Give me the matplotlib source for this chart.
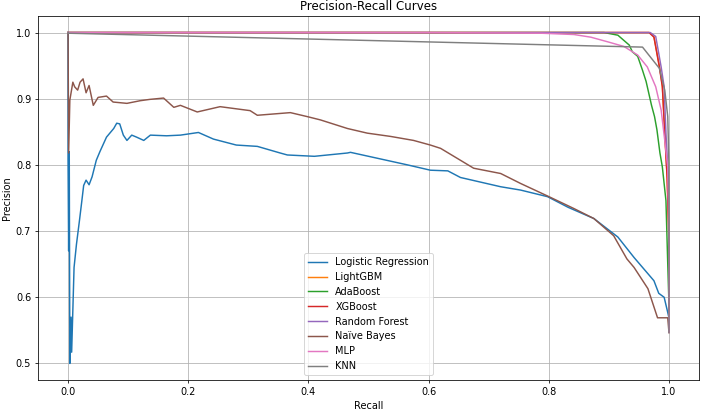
import matplotlib.pyplot as plt

# Recall / precision points
lr_recall = [0.0, 0.0, 0.001, 0.002, 0.003, 0.005, 0.006, 0.01, 0.014, 0.019, 0.023, 0.026, 0.03, 0.035,
             0.04, 0.047, 0.053, 0.064, 0.076, 0.081, 0.086, 0.092, 0.098, 0.106, 0.114, 0.126, 0.137,
             0.164, 0.187, 0.217, 0.242, 0.28, 0.315, 0.353, 0.365, 0.41, 0.465, 0.47, 0.52, 0.565,
             0.603, 0.632, 0.653, 0.72, 0.753, 0.798, 0.832, 0.875, 0.915, 0.942, 0.975, 0.983,
             0.992, 0.998, 1.0, 1.0]
lr_precision = [1.0, 0.81, 0.67, 0.82, 0.5, 0.57, 0.517, 0.645, 0.68, 0.716, 0.746, 0.769, 0.777, 0.77,
                0.782, 0.807, 0.82, 0.842, 0.855, 0.863, 0.862, 0.845, 0.837, 0.845, 0.842, 0.837, 0.845,
                0.844, 0.845, 0.849, 0.839, 0.83, 0.828, 0.818, 0.815, 0.813, 0.818, 0.819, 0.809, 0.80,
                0.792, 0.791, 0.781, 0.767, 0.762, 0.752, 0.736, 0.719, 0.691, 0.66, 0.625, 0.606,
                0.6, 0.577, 0.569, 0.547]

top_recall = [0.0, 0.967, 0.975, 0.984, 0.989, 0.993, 0.997, 1.0, 1.0]
lgbm_precision = [1.0, 1.0, 0.994, 0.95, 0.92, 0.85, 0.78, 0.70, 0.547]
xgb_precision = [1.0, 1.0, 0.993, 0.948, 0.918, 0.848, 0.78, 0.68, 0.547]
rf_recall = [0.0, 0.969, 0.978, 0.987, 0.992, 0.995, 0.999, 1.0, 1.0]
rf_precision = [1.0, 1.0, 0.994, 0.948, 0.918, 0.848, 0.78, 0.70, 0.547]

ada_recall = [0.0, 0.892, 0.915, 0.934, 0.939, 0.948, 0.956, 0.962, 0.967, 0.971, 0.976, 0.98,
              0.985, 0.989, 0.995, 0.998, 1.0, 1.0]
ada_precision = [1.0, 1.0, 0.996, 0.981, 0.971, 0.964, 0.943, 0.926, 0.906, 0.89, 0.873, 0.853,
                 0.818, 0.797, 0.746, 0.65, 0.59, 0.547]

nb_recall = [0.0, 0.001, 0.003, 0.008, 0.011, 0.016, 0.02, 0.025, 0.03, 0.035, 0.042, 0.05, 0.064,
             0.075, 0.098, 0.12, 0.136, 0.159, 0.176, 0.187, 0.215, 0.253, 0.303, 0.315, 0.37, 0.398,
             0.42, 0.465, 0.498, 0.537, 0.575, 0.603, 0.62, 0.675, 0.72, 0.753, 0.798, 0.842, 0.875,
             0.908, 0.93, 0.942, 0.965, 0.981, 0.998, 1.0]
nb_precision = [1.0, 0.818, 0.898, 0.925, 0.918, 0.913, 0.925, 0.93, 0.909, 0.92, 0.89, 0.902, 0.904,
                0.895, 0.893, 0.897, 0.899, 0.901, 0.887, 0.89, 0.88, 0.888, 0.882, 0.875, 0.879, 0.873,
                0.868, 0.855, 0.848, 0.843, 0.837, 0.83, 0.825, 0.795, 0.787, 0.772, 0.753, 0.734, 0.719,
                0.693, 0.658, 0.645, 0.613, 0.569, 0.569, 0.547]

mlp_recall = [0.0, 0.6, 0.787, 0.842, 0.87, 0.898, 0.925, 0.948, 0.964, 0.978, 0.987, 0.993, 0.998,
              1.0, 1.0]
mlp_precision = [1.0, 1.0, 0.999, 0.997, 0.993, 0.986, 0.979, 0.966, 0.948, 0.918, 0.883, 0.837, 0.797,
                 0.70, 0.547]

knn_recall = [0.0, 0.0, 0.956, 0.984, 0.993, 0.998, 1.0, 1.0]
knn_precision = [1.0, 0.999, 0.978, 0.946, 0.913, 0.873, 0.80, 0.547]

fig = plt.figure(figsize=(10, 411 / 70.2), dpi=70.2)
ax = fig.add_axes([38 / 702, 31 / 411, 661 / 702, 364 / 411])

ax.plot(lr_recall, lr_precision, label='Logistic Regression', color='tab:blue', lw=1.5)
ax.plot(top_recall, lgbm_precision, label='LightGBM', color='tab:orange', lw=1.5)
ax.plot(ada_recall, ada_precision, label='AdaBoost', color='tab:green', lw=1.5)
ax.plot(top_recall, xgb_precision, label='XGBoost', color='tab:red', lw=1.5)
ax.plot(rf_recall, rf_precision, label='Random Forest', color='tab:purple', lw=1.5)
ax.plot(nb_recall, nb_precision, label='Naïve Bayes', color='tab:brown', lw=1.5)
ax.plot(mlp_recall, mlp_precision, label='MLP', color='tab:pink', lw=1.5)
ax.plot(knn_recall, knn_precision, label='KNN', color='tab:gray', lw=1.5)

ax.set_xlim(-0.05, 1.05)
ax.set_ylim(0.475, 1.025)
ax.set_title('Precision-Recall Curves')
ax.set_xlabel('Recall')
ax.set_ylabel('Precision')
ax.grid(True)
ax.legend(loc='lower center')

fig.savefig('out.png', dpi=70.2)
